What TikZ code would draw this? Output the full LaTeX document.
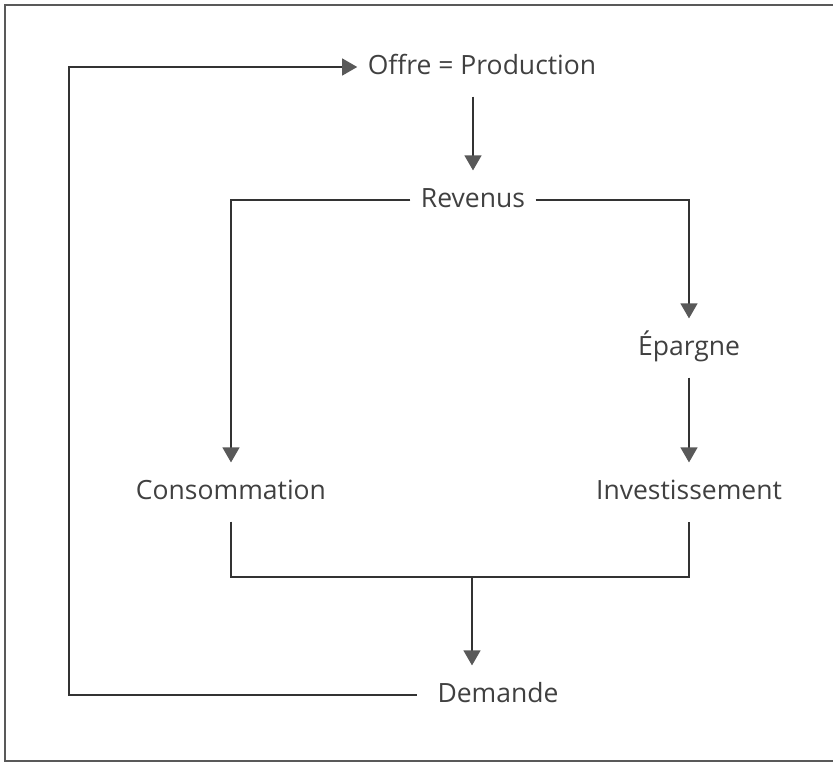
\documentclass[tikz,border=0pt]{standalone}
\usepackage{fontspec}
\setmainfont{Open Sans}
\usetikzlibrary{arrows.meta}
\definecolor{trait}{gray}{0.2}
\definecolor{pointe}{gray}{0.35}
\definecolor{texte}{gray}{0.25}
\tikzset{
    etiquette/.style={inner xsep=10pt,inner ysep=16pt,text height=20pt,text depth=6pt,
        text=texte,font=\fontsize{26.5}{30}\selectfont},
    fleche/.style={-{Triangle[length=15pt,width=17pt,color=pointe]}},
}
\begin{document}
    \begin{tikzpicture}[x=1pt,y=-1pt,line width=1.2pt,draw=trait]
        \useasboundingbox (0,0) rectangle (833,764);
        \draw[line width=2pt,black!65] (833,5) -- (5,5) -- (5,761) -- (833,761);
        \node[etiquette] (offre) at (482,67) {Offre = Production};
        \node[etiquette] (revenus) at (473,200) {Revenus};
        \node[etiquette] (epargne) at (689,348) {Épargne};
        \node[etiquette] (conso) at (231,492) {Consommation};
        \node[etiquette] (invest) at (689,492) {Investissement};
        \node[etiquette] (demande) at (498,695) {Demande};
        \coordinate (jonction) at (472,577);
        \coordinate (coin) at (69,695);
        \draw[fleche] (revenus |- offre.south) -- (revenus.north);
        \draw[fleche] (revenus.west) -| (conso.north);
        \draw[fleche] (revenus.east) -| (epargne.north);
        \draw[fleche] (epargne) -- (invest);
        \draw (conso.south) |- (jonction) -| (invest.south);
        \draw[fleche] (jonction) -- (jonction |- demande.north);
        \draw[fleche,shorten <=10pt] (demande.west) -- (coin) |- (offre.west);
    \end{tikzpicture}
\end{document}
